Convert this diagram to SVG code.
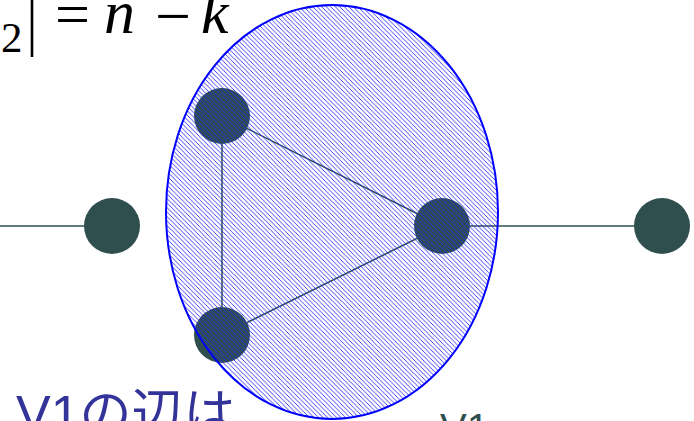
<svg xmlns="http://www.w3.org/2000/svg" width="694" height="421" viewBox="0 0 694 421">
  <style>
    .node { fill: #2F4F4F; }
    .edge { stroke: #2F4F4F; stroke-width: 1.5; fill: none; }
    .math { font-family: "Liberation Serif", "Times New Roman", serif; fill: #000; }
    .it { font-style: italic; }
    .jp { font-family: "Liberation Sans", "Noto Sans CJK JP", sans-serif; }
  </style>
  <defs>
    <pattern id="hatch" patternUnits="userSpaceOnUse" width="4.5" height="4.5">
      <path d="M-1,-1 L5.5,5.5 M-1,3.5 L1,5.5 M3.5,-1 L5.5,1" stroke="#2020ff" stroke-width="0.85" fill="none"/>
    </pattern>
  </defs>
  <rect width="694" height="421" fill="#fff"/>

  <g id="formula">
    <text class="math" x="1" y="52" font-size="43">2</text>
    <line x1="32" y1="-5" x2="32" y2="57" stroke="#000" stroke-width="2.6"/>
    <text class="math" x="55" y="35" font-size="62" textLength="35" lengthAdjust="spacingAndGlyphs">=</text>
    <text class="math it" x="104" y="33" font-size="62">n</text>
    <text class="math" x="155" y="37" font-size="62" textLength="36" lengthAdjust="spacingAndGlyphs">−</text>
    <text class="math it" x="201" y="33" font-size="62">k</text>
  </g>

  <g id="connectors">
    <line class="edge" x1="0" y1="226" x2="112" y2="226"/>
    <line class="edge" x1="442" y1="226" x2="662" y2="226"/>
    <line class="edge" x1="222" y1="116" x2="442" y2="226"/>
    <line class="edge" x1="222" y1="116" x2="222" y2="335"/>
    <line class="edge" x1="222" y1="335" x2="442" y2="226"/>
  </g>

  <g id="node-left"><circle class="node" cx="112" cy="226" r="28"/></g>
  <g id="node-top"><circle class="node" cx="222" cy="116" r="28"/></g>
  <g id="node-mid"><circle class="node" cx="442" cy="226" r="28"/></g>
  <g id="node-bottom"><circle class="node" cx="222" cy="335" r="28"/></g>
  <g id="node-right"><circle class="node" cx="662" cy="226" r="28"/></g>

  <g id="set-V1">
    <ellipse cx="332" cy="212" rx="166" ry="207" fill="url(#hatch)" stroke="#0000ff" stroke-width="2"/>
  </g>

  <g id="label-bottom">
    <text class="jp" x="16" y="432" font-size="52" fill="#333399">V1の辺は</text>
  </g>
  <g id="label-v1">
    <text class="jp" x="440" y="442" font-size="40" fill="#2F4F4F">V1</text>
  </g>
</svg>
